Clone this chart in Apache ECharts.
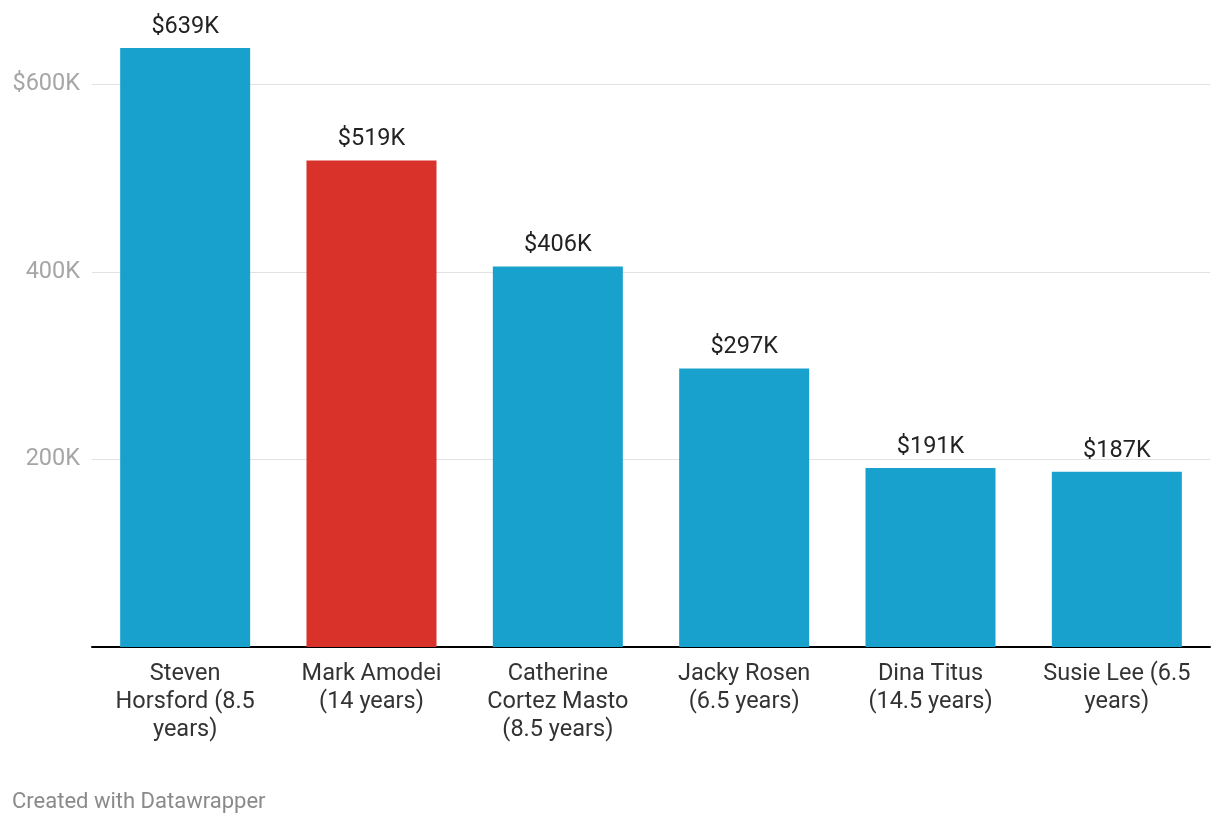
<!DOCTYPE html>
<html><head><meta charset="utf-8">
<script src="https://cdn.jsdelivr.net/npm/echarts@6/dist/echarts.min.js"></script>
<style>html,body{margin:0;padding:0;background:#fff}#c{width:1220px;height:824px}</style>
</head><body><div id="c"></div>
<script>
const categories = ["Steven Horsford (8.5 years)", "Mark Amodei (14 years)", "Catherine Cortez Masto (8.5 years)", "Jacky Rosen (6.5 years)", "Dina Titus (14.5 years)", "Susie Lee (6.5 years)"];
const categoryLabels = ["Steven\nHorsford (8.5\nyears)", "Mark Amodei\n(14 years)", "Catherine\nCortez Masto\n(8.5 years)", "Jacky Rosen\n(6.5 years)", "Dina Titus\n(14.5 years)", "Susie Lee (6.5\nyears)"];
const values = [639, 519, 406, 297, 191, 187];
const barColors = ["#18a1cd", "#d8322b", "#18a1cd", "#18a1cd", "#18a1cd", "#18a1cd"];
const yTicks = {200: "200K", 400: "400K", 600: "$600K"};

const chart = echarts.init(document.getElementById('c'), null, {renderer: 'canvas'});
chart.setOption({
  animation: false,
  textStyle: {fontFamily: 'Roboto'},
  grid: {left: 92, right: 10, top: 48, bottom: 177, containLabel: false},
  xAxis: {
    type: 'category',
    data: categories,
    axisLine: {show: true, lineStyle: {color: '#000', width: 2}},
    axisTick: {show: false},
    axisLabel: {
      interval: 0, margin: 13, fontSize: 23.5, color: '#333', lineHeight: 28,
      fontFamily: 'Roboto',
      formatter: (v, i) => categoryLabels[i]
    }
  },
  yAxis: {
    type: 'value', min: 0, max: 639, interval: 200,
    axisLine: {show: false}, axisTick: {show: false},
    splitLine: {show: true, showMaxLine: false, showMinLine: false, lineStyle: {color: '#e2e2e2', width: 1}},
    axisLabel: {
      showMaxLabel: false, showMinLabel: false, margin: 12, fontSize: 23.5, color: '#a6a6a6',
      fontFamily: 'Roboto',
      formatter: v => yTicks[v] || ''
    }
  },
  series: [{
    type: 'bar',
    barWidth: 130,
    data: values.map((v, i) => ({value: v, itemStyle: {color: barColors[i]}})),
    label: {
      show: true, position: 'top', distance: 9, fontSize: 23.5, color: '#222',
      fontFamily: 'Roboto',
      formatter: p => '$' + p.value + 'K'
    }
  }],
  graphic: [{
    type: 'text', left: 12, top: 791,
    style: {text: 'Created with Datawrapper', fontSize: 22, fill: '#8a8a8a', fontFamily: 'Roboto'}
  }]
});
</script></body></html>
